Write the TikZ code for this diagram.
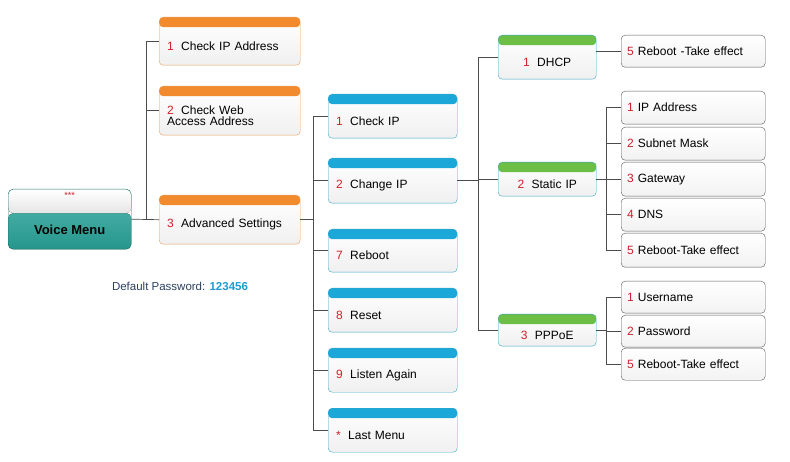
\documentclass[tikz,border=0pt]{standalone}
\usepackage{fontspec}
\setmainfont{Liberation Sans}
\usetikzlibrary{positioning}
\definecolor{numred}{HTML}{D0202A}
\definecolor{hdorange}{HTML}{F28A2E}
\definecolor{bdorange}{HTML}{E8A060}
\definecolor{hdblue}{HTML}{1BA8D8}
\definecolor{bdblue}{HTML}{3AA6C8}
\definecolor{hdgreen}{HTML}{6DBE45}
\definecolor{teal}{HTML}{2AA79C}
\definecolor{pwblue}{HTML}{1E9BD0}
\definecolor{pwtext}{HTML}{2A4060}
\newcommand{\nr}[1]{{\color{numred}#1}}
\newcommand{\lo}[2][-5pt]{\raisebox{#1}[\height][\depth]{#2}}
\tikzset{
  hbox/.style 2 args={draw=#2, rounded corners=4pt, top color=white, bottom color=gray!12,
    anchor=north west, align=left, inner xsep=8pt,
    path picture={\fill[#1] (path picture bounding box.north west) rectangle
      ([yshift=-10pt]path picture bounding box.north east);}},
  leaf/.style={draw=gray!70!black, rounded corners=4pt, top color=white, bottom color=gray!10,
    anchor=north west, align=left, inner xsep=6pt, minimum width=144pt, text width=132pt},
  link/.style={draw=gray!60!black, line width=0.7pt}
}
\begin{document}
\begin{tikzpicture}[x=1pt,y=-1pt,font=\fontsize{12}{14}\selectfont]
\useasboundingbox (0,0) rectangle (790,462);
% root
\node[draw=teal!70!black, rounded corners=5pt, minimum width=123pt, minimum height=60pt,
  anchor=north west, inner sep=0pt, font=\fontsize{13}{15}\selectfont\bfseries,
  path picture={\fill[top color=teal!80, bottom color=teal!90!black]
    ([yshift=-24pt]path picture bounding box.north west) rectangle
    (path picture bounding box.south east);
    \fill[top color=white, bottom color=gray!20] (path picture bounding box.north west)
    rectangle ([yshift=-24pt]path picture bounding box.north east);}]
  (vm) at (8,189) {\lo[-11pt]{Voice Menu}};
\node[text=numred, font=\small, below=3pt of vm.north, inner sep=0pt] (stars) {***};
% orange level
\node[hbox={hdorange}{bdorange}, minimum width=141pt, minimum height=48pt, text width=125pt] (o1) at (159,17) {\lo{\nr{1}\; Check IP Address}};
\node[hbox={hdorange}{bdorange}, minimum width=141pt, minimum height=49pt, text width=125pt] (o2) at (159,86) {\lo{\shortstack[l]{\nr{2}\; Check Web\\Access Address}}};
\node[hbox={hdorange}{bdorange}, minimum width=141pt, minimum height=49pt, text width=125pt] (o3) at (159,195) {\lo{\nr{3}\; Advanced Settings}};
% blue level
\node[hbox={hdblue}{bdblue}, minimum width=129pt, minimum height=44pt, text width=113pt] (b1) at (328,94) {\lo{\nr{1}\; Check IP}};
\node[hbox={hdblue}{bdblue}, minimum width=129pt, minimum height=45pt, text width=113pt] (b2) at (328,158) {\lo{\nr{2}\; Change IP}};
\node[hbox={hdblue}{bdblue}, minimum width=129pt, minimum height=43pt, text width=113pt] (b3) at (328,229) {\lo{\nr{7}\; Reboot}};
\node[hbox={hdblue}{bdblue}, minimum width=129pt, minimum height=44pt, text width=113pt] (b4) at (328,288) {\lo{\nr{8}\; Reset}};
\node[hbox={hdblue}{bdblue}, minimum width=129pt, minimum height=44pt, text width=113pt] (b5) at (328,348) {\lo{\nr{9}\; Listen Again}};
\node[hbox={hdblue}{bdblue}, minimum width=129pt, minimum height=44pt, text width=113pt] (b6) at (328,408) {\lo{\nr{*}\; Last Menu}};
% green level
\node[hbox={hdgreen}{bdblue}, minimum width=98pt, minimum height=44pt, text width=82pt, align=center] (g1) at (498,35) {\lo{\nr{1}\; DHCP}};
\node[hbox={hdgreen}{bdblue}, minimum width=98pt, minimum height=34pt, text width=82pt, align=center] (g2) at (498,162) {\lo{\nr{2}\; Static IP}};
\node[hbox={hdgreen}{bdblue}, minimum width=98pt, minimum height=32pt, text width=82pt, align=center] (g3) at (498,314) {\lo{\nr{3}\; PPPoE}};
% leaves
\node[leaf, minimum height=32pt] (d1) at (621,35) {\nr{5} Reboot -Take effect};
\node[leaf, minimum height=33pt] (s1) at (621,91) {\nr{1} IP Address};
\node[leaf, minimum height=33pt] (s2) at (621,127) {\nr{2} Subnet Mask};
\node[leaf, minimum height=34pt] (s3) at (621,162) {\nr{3} Gateway};
\node[leaf, minimum height=33pt] (s4) at (621,198) {\nr{4} DNS};
\node[leaf, minimum height=34pt] (s5) at (621,233) {\nr{5} Reboot-Take effect};
\node[leaf, minimum height=32pt] (p1) at (621,281) {\nr{1} Username};
\node[leaf, minimum height=32pt] (p2) at (621,315) {\nr{2} Password};
\node[leaf, minimum height=32pt] (p3) at (621,348) {\nr{5} Reboot-Take effect};
% password note
\node[text=pwtext, font=\fontsize{11.5}{13}\selectfont] (pw) at (180,286) {Default Password: \textcolor{pwblue}{\bfseries 123456}};
% connectors
\draw[link] (vm.east) -- (o3.west);
\coordinate (ot) at (146,219);
\foreach \n in {o1,o2} \draw[link] (ot) |- (\n.west);
\draw[link] (o3.east) -- ++(13,0) coordinate (bt);
\foreach \n in {b1,b2,b3,b4,b5,b6} \draw[link] (bt) |- (\n.west);
\draw[link] (b2.east) -- ++(21,0) coordinate (gt);
\foreach \n in {g1,g2,g3} \draw[link] (gt) |- (\n.west);
\draw[link] (g1.east |- d1.west) -- (d1.west);
\draw[link] (g2.east) -- ++(10,0) coordinate (st);
\foreach \n in {s1,s2,s3,s4,s5} \draw[link] (st) |- (\n.west);
\draw[link] (g3.east) -- ++(10,0) coordinate (pt);
\foreach \n in {p1,p2,p3} \draw[link] (pt) |- (\n.west);
\end{tikzpicture}
\end{document}
